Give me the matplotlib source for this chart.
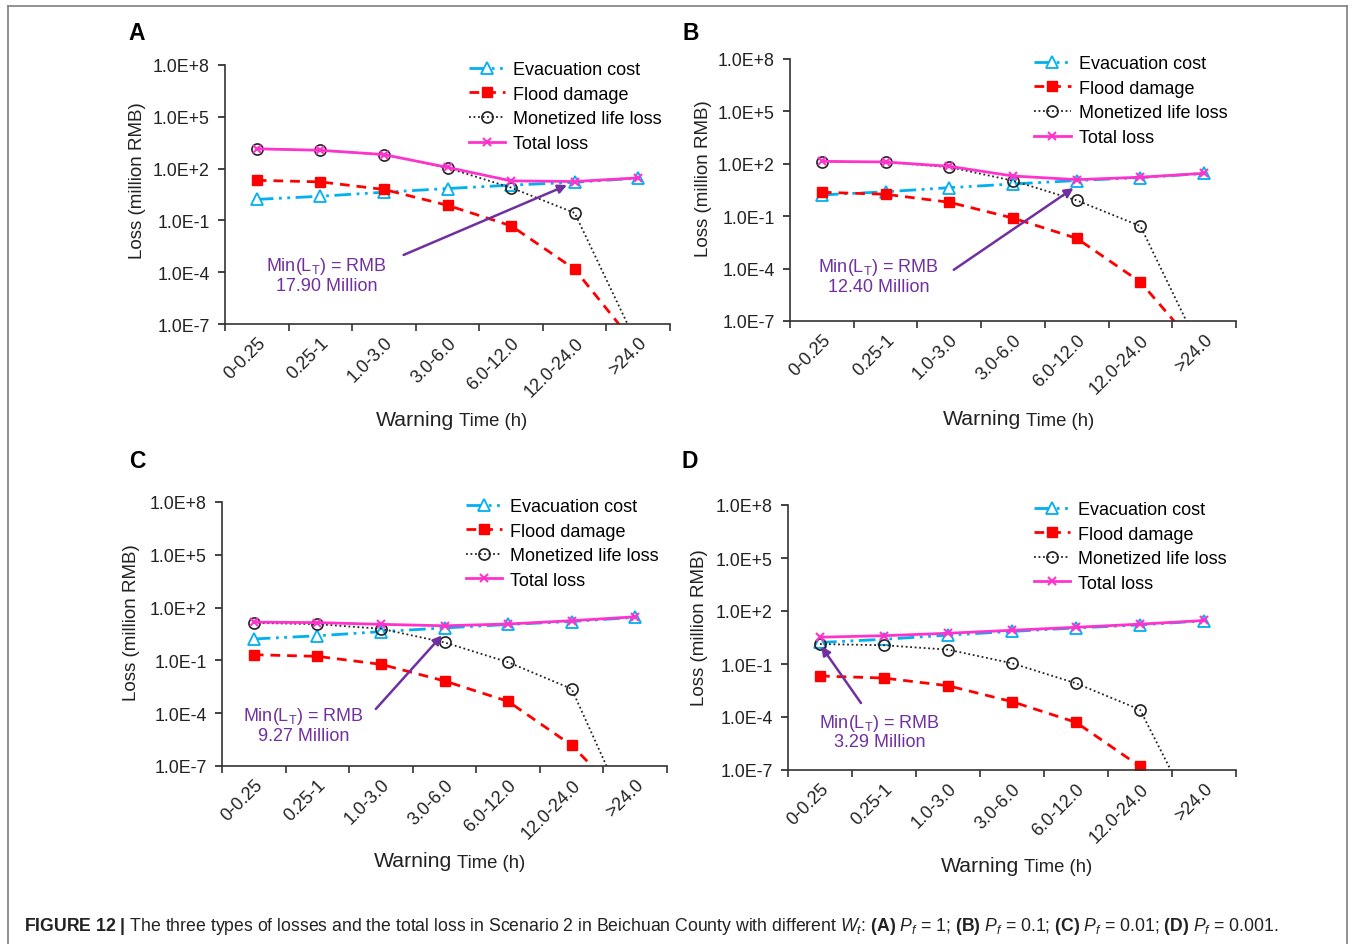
import matplotlib
matplotlib.use("Agg")
import matplotlib.pyplot as plt
from matplotlib.lines import Line2D

plt.rcParams['font.family'] = ['Liberation Sans', 'DejaVu Sans']
plt.rcParams['mathtext.fontset'] = 'custom'
plt.rcParams['mathtext.rm'] = 'Liberation Sans'
plt.rcParams['mathtext.it'] = 'Liberation Sans:italic'
plt.rcParams['mathtext.bf'] = 'Liberation Sans:bold'

# categories (warning time, h)
categories = ["0-0.25", "0.25-1", "1.0-3.0", "3.0-6.0", "6.0-12.0", "12.0-24.0", ">24.0"]

# evacuation cost is the same in every panel (million RMB)
evac = [1.65, 2.5, 4.3, 7.0, 11.0, 16.2, 28.0]

# panel A, Pf = 1
flood_a = [21, 17, 6.2, 0.75, 0.049, 1.5e-4, 4e-9]
life_a = [1400, 1150, 650, 110, 7.9, 0.27, 5e-9]
total_a = [1400, 1150, 650, 118, 19.5, 17.9, 29]

# panel B, Pf = 0.1
flood_b = [2.35, 1.8, 0.63, 0.078, 0.0054, 1.7e-5, 1e-9]
life_b = [135, 124, 65, 10.8, 0.81, 0.027, 8e-10]
total_b = [138, 127, 72, 20, 12.4, 17.0, 28.5]

# panel C, Pf = 0.01
flood_c = [0.21, 0.17, 0.06, 0.0068, 4.7e-4, 1.5e-6, 3e-10]
life_c = [13.5, 11.5, 6.3, 1.05, 0.079, 0.0024, 2.5e-11]
total_c = [15, 14, 11.2, 9.27, 11.7, 18, 30]

# panel D, Pf = 0.001
flood_d = [0.021, 0.016, 0.0059, 7.4e-4, 5e-5, 1.6e-7, 1e-11]
life_d = [1.35, 1.15, 0.65, 0.11, 0.0081, 2.6e-4, 2e-11]
total_d = [3.29, 4.0, 5.5, 8.1, 12, 18, 29]

min_labels = ["17.90", "12.40", "9.27", "3.29"]

W, H = 1356, 945
PURPLE = "#7030A0"


def fx(x):
    return x / W


def fy(y):
    return 1 - y / H


fig = plt.figure(figsize=(W / 100, H / 100), dpi=100)

# (left, top, right, bottom) in pixels
boxes = [(225, 66, 670, 325), (790, 60, 1236, 322),
         (222, 503, 667, 767), (788, 506, 1236, 771)]
letters = ["A", "B", "C", "D"]
letter_pos = [(137, 33), (691, 33), (137, 462), (690, 462)]
ylabel_pos = [(137, 181), (703, 179), (131, 623), (700, 628)]
xlabel_pos = [(457, 421), (1024, 420), (455, 862), (1022, 867)]
# arrow: text centre, tail, head (x index, log10 value)
arrows = [((1.1, -4.15), (2.31, -3.0), (4.88, 1.04)),
          ((0.89, -4.4), (2.07, -4.07), (3.95, 0.61)),
          ((0.78, -4.63), (1.92, -3.76), (2.96, 0.42)),
          ((0.93, -4.79), (0.64, -3.21), (0.02, 0.0))]

panels = [(flood_a, life_a, total_a), (flood_b, life_b, total_b),
          (flood_c, life_c, total_c), (flood_d, life_d, total_d)]

x = list(range(len(categories)))

for i, (flood, life, total) in enumerate(panels):
    l, t, r, b = boxes[i]
    ax = fig.add_axes([fx(l), fy(b), (r - l) / W, (b - t) / H])

    ax.plot(x, evac, color="#00B0F0", lw=2, linestyle=(0, (6, 2, 1, 2, 1, 2)),
            marker="^", ms=8, mfc="white", mec="#00B0F0", mew=1.3,
            label="Evacuation cost")
    ax.plot(x, flood, color="#FF0000", lw=2, linestyle=(0, (3.5, 2.5)),
            marker="s", ms=7.5, mfc="#FF0000", mec="#FF0000",
            label="Flood damage")
    ax.plot(x, life, color="#222222", lw=1.3, linestyle=(0, (1, 1.5)),
            marker="o", ms=8, mfc="none", mec="#222222", mew=1.2,
            label="Monetized life loss")
    ax.plot(x, total, color="#FF33CC", lw=2, linestyle="-",
            marker="x", ms=6, mew=1.5, label="Total loss")

    ax.set_yscale("log")
    ax.set_ylim(1e-7, 1e8)
    ax.set_xlim(-0.5, 6.5)
    yt = [1e-7, 1e-4, 1e-1, 1e2, 1e5, 1e8]
    ax.set_yticks(yt)
    ax.set_yticklabels(["1.0E-7", "1.0E-4", "1.0E-1", "1.0E+2", "1.0E+5", "1.0E+8"])
    ax.minorticks_off()
    ax.tick_params(axis="y", direction="out", length=5, width=1.2,
                   pad=6, labelsize=12.8, colors="#222222")

    ax.set_xticks(x)
    ax.set_xticklabels(categories, rotation=45, ha="right",
                       rotation_mode="anchor", fontsize=13, color="#222222")
    ax.tick_params(axis="x", which="major", length=0, pad=7)
    ax.set_xticks([k - 0.5 for k in range(len(categories) + 1)], minor=True)
    ax.tick_params(axis="x", which="minor", direction="out", length=5,
                   width=1.2, color="#333333")

    for side in ["top", "right"]:
        ax.spines[side].set_visible(False)
    for side in ["left", "bottom"]:
        ax.spines[side].set_color("#333333")
        ax.spines[side].set_linewidth(1.2)

    ax.legend(loc="upper left", bbox_to_anchor=(0.548, 1.015), frameon=False,
              fontsize=13, handlelength=2.0, handletextpad=0.45,
              labelspacing=0.42, borderaxespad=0, borderpad=0)

    (tx, ty), (ax0, ay0), (hx, hy) = arrows[i]
    ax.annotate("", xy=(hx, 10 ** hy), xytext=(ax0, 10 ** ay0),
                arrowprops=dict(arrowstyle="-|>", color=PURPLE, lw=1.8,
                                mutation_scale=13, shrinkA=0, shrinkB=0))
    ax.text(tx, 10 ** ty, "Min(L$_\\mathregular{T}$) = RMB\n" + min_labels[i] + " Million",
            ha="center", va="center", fontsize=13, color=PURPLE,
            linespacing=1.05)

    lx, ly = letter_pos[i]
    fig.text(fx(lx), fy(ly), letters[i], fontsize=16.5, fontweight="bold",
             ha="center", va="center")
    yx, yy = ylabel_pos[i]
    fig.text(fx(yx), fy(yy), "Loss (million RMB)", rotation=90, fontsize=13.5,
             ha="center", va="center", color="#222222")
    sx, sy = xlabel_pos[i]
    fig.text(fx(sx - 3), fy(sy), "Warning", fontsize=15.3, ha="right",
             va="center", color="#222222")
    fig.text(fx(sx + 2), fy(sy + 1), "Time (h)", fontsize=13.3, ha="left",
             va="center", color="#222222")

# frame round the figure
frame_kw = dict(color="#7f7f7f", lw=1.2, transform=fig.transFigure)
fig.add_artist(Line2D([fx(8), fx(8)], [fy(7), 0], **frame_kw))
fig.add_artist(Line2D([fx(8), fx(1347)], [fy(7), fy(7)], **frame_kw))
fig.add_artist(Line2D([fx(1347), fx(1347)], [fy(7), 0], **frame_kw))

caption = (r"$\mathbf{FIGURE\ 12\ |}$ The three types of losses and the total loss in "
           r"Scenario 2 in Beichuan County with different $W_t$: "
           r"$\mathbf{(A)}$ $P_f$ = 1; $\mathbf{(B)}$ $P_f$ = 0.1; "
           r"$\mathbf{(C)}$ $P_f$ = 0.01; $\mathbf{(D)}$ $P_f$ = 0.001.")
fig.text(fx(24), fy(927), caption, fontsize=12.7, ha="left", va="center",
         color="#222222")

fig.savefig("out.png", dpi=100)
